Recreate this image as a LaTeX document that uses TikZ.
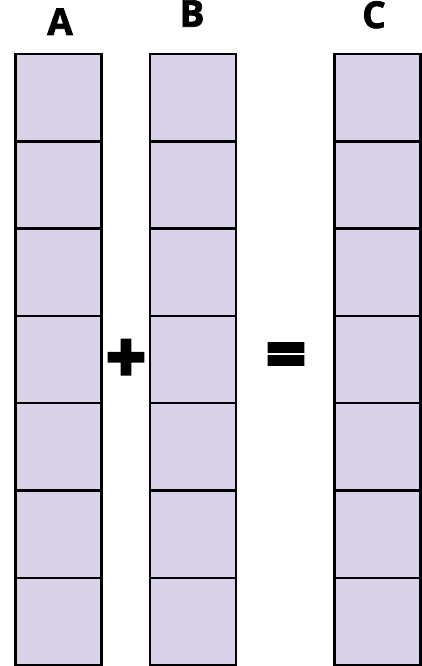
\documentclass[tikz,border=0pt]{standalone}
\usepackage{fontspec}
\setmainfont{Open Sans}
\newfontfamily\opfont[FakeBold=5]{Open Sans Bold}
\newfontfamily\lblfont[FakeBold=2]{Open Sans Bold}
\usetikzlibrary{positioning}
\definecolor{cellfill}{HTML}{D9D2E9}

\begin{document}
\begin{tikzpicture}[x=1pt, y=-1pt, node distance=0pt,
    cell/.style={draw, line width=2.4pt, fill=cellfill, minimum width=86pt,
                 minimum height=87.3pt, inner sep=0pt, outer sep=0pt},
    lbl/.style={font=\lblfont\fontsize{37}{37}\selectfont, inner sep=0pt, anchor=base},
    op/.style={font=\opfont\fontsize{69}{69}\selectfont, inner sep=0pt}]
  \useasboundingbox (0,0) rectangle (422,666);

  \node[cell] (A1) at (58.5,97.65) {};
  \node[cell, right=48.5pt of A1] (B1) {};
  \node[cell, right=98.5pt of B1] (C1) {};
  \foreach \r [remember=\r as \p (initially 1)] in {2,...,7} {
    \node[cell, below=of A\p] (A\r) {};
    \node[cell, below=of B\p] (B\r) {};
    \node[cell, below=of C\p] (C\r) {};
  }

  \node[lbl] (labA) at (60,35) {A};
  \node[lbl] (labB) at (192,26.7) {B};
  \node[lbl] (labC) at (374,28) {C};

  \node[op] (plus) at (126,361) {+};
  \node[op] (equals) at (286,361) {=};
\end{tikzpicture}
\end{document}
